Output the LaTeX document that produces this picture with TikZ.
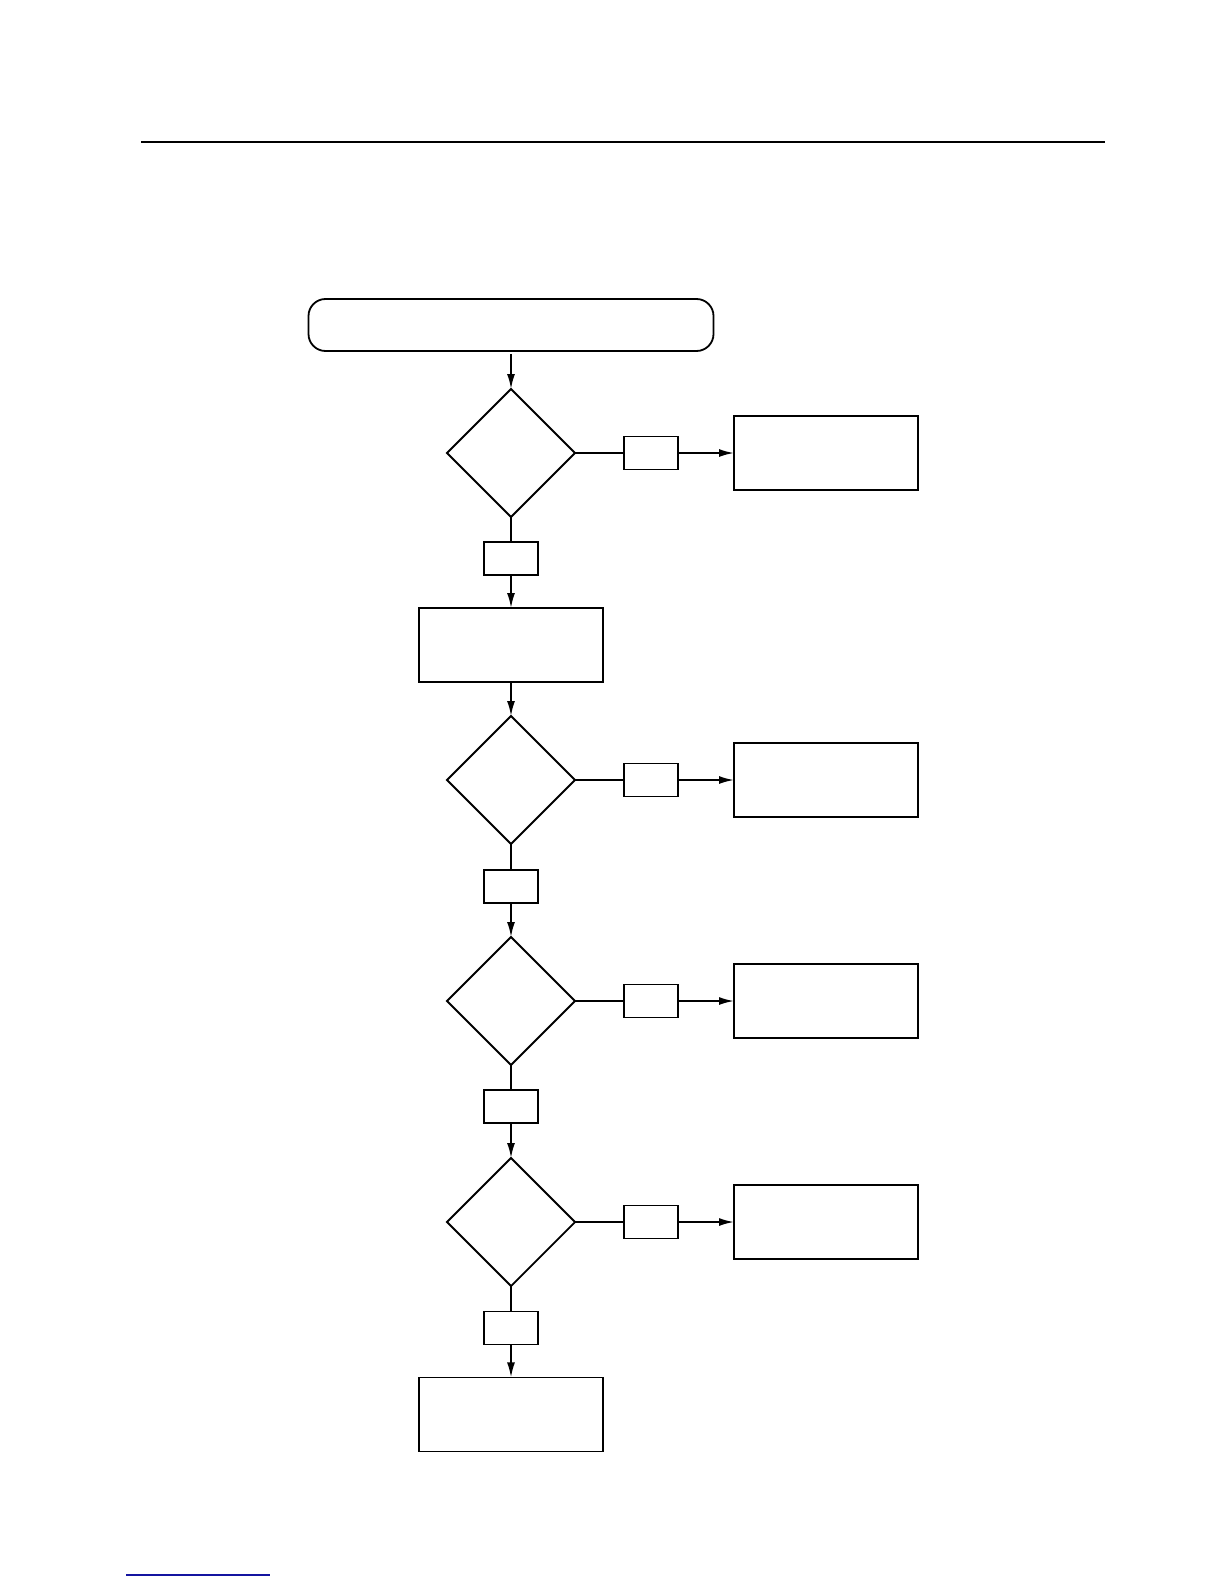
\documentclass[tikz,border=0pt]{standalone}
\usepackage{xcolor}
\usepackage{tikz}
\usetikzlibrary{arrows.meta,positioning,shapes.geometric}
\definecolor{linkblue}{RGB}{20,20,160}

\begin{document}
\begin{tikzpicture}[x=0.5pt,y=-0.5pt,
    line width=0.9pt,
    every node/.style={outer sep=0pt},
    term/.style={draw,rounded corners=8.5pt,minimum width=202.5pt,minimum height=26pt,inner sep=0pt},
    dec/.style={draw,diamond,shape aspect=1,minimum width=64pt,minimum height=64pt,inner sep=0pt},
    b/.style={draw,minimum width=92pt,minimum height=37pt,inner sep=0pt},
    tag/.style={draw,minimum width=27pt,minimum height=16.5pt,inner sep=0pt},
    >={Latex[length=7.5pt,width=4pt]}
  ]
    \useasboundingbox (0,0) rectangle (1224,1584);
    \draw[line width=1.4pt] (141,142) -- (1105,142);
    \draw[line width=0.7pt,linkblue] (126,1575) -- (270,1575);

    \node[term] (start) at (511,325) {};
    \node[dec,below=19pt of start] (q1) {};
    \node[tag,below=12.5pt of q1] (y1) {};
    \node[b,below=16.5pt of y1] (act) {};
    \node[dec,below=17pt of act] (q2) {};
    \node[tag,below=13pt of q2] (y2) {};
    \node[dec,below=17pt of y2] (q3) {};
    \node[tag,below=12.5pt of q3] (y3) {};
    \node[dec,below=17.5pt of y3] (q4) {};
    \node[tag,below=12.7pt of q4] (y4) {};
    \node[b,below=16.5pt of y4] (done) {};

    \node[tag,right=24.5pt of q1] (n1) {};
    \node[b,right=28pt of n1] (fix1) {};
    \node[tag,right=24.5pt of q2] (n2) {};
    \node[b,right=28pt of n2] (fix2) {};
    \node[tag,right=24.5pt of q3] (n3) {};
    \node[b,right=28pt of n3] (fix3) {};
    \node[tag,right=24.5pt of q4] (n4) {};
    \node[b,right=28pt of n4] (fix4) {};

    \draw[->,shorten <=1.5pt] (start) -- (q1);
    \draw (q1) -- (y1);
    \draw[->] (y1) -- (act);
    \draw[->] (act) -- (q2);
    \draw (q2) -- (y2);
    \draw[->] (y2) -- (q3);
    \draw (q3) -- (y3);
    \draw[->] (y3) -- (q4);
    \draw (q4) -- (y4);
    \draw[->] (y4) -- (done);

    \draw (q1) -- (n1);
    \draw[->] (n1) -- (fix1);
    \draw (q2) -- (n2);
    \draw[->] (n2) -- (fix2);
    \draw (q3) -- (n3);
    \draw[->] (n3) -- (fix3);
    \draw (q4) -- (n4);
    \draw[->] (n4) -- (fix4);
  \end{tikzpicture}
\end{document}
